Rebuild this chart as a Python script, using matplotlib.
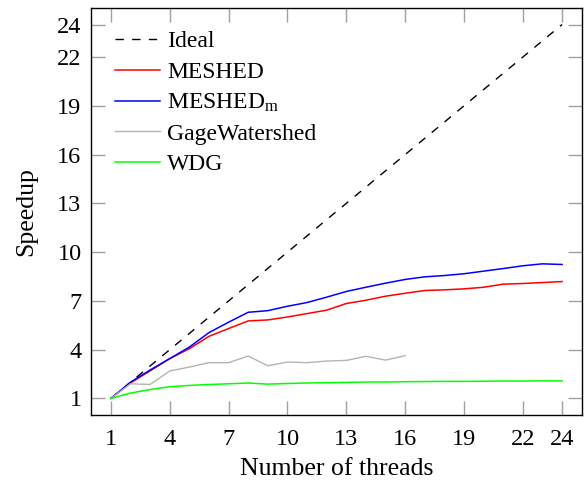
import matplotlib
matplotlib.use("Agg")
import matplotlib.pyplot as plt
import numpy as np

plt.rcParams['font.family'] = ['Liberation Serif', 'DejaVu Serif']
plt.rcParams['mathtext.fontset'] = 'custom'
plt.rcParams['mathtext.rm'] = 'Liberation Serif'
plt.rcParams['mathtext.it'] = 'Liberation Serif:italic'

threads = list(range(1, 25))
ideal = list(range(1, 25))
meshed = [1.0, 1.95, 2.7, 3.45, 4.06, 4.82, 5.30, 5.77, 5.83, 6.01, 6.22, 6.43,
          6.84, 7.04, 7.29, 7.47, 7.64, 7.68, 7.74, 7.84, 8.03, 8.07, 8.13, 8.19]
meshed_m = [1.0, 2.0, 2.75, 3.45, 4.16, 5.05, 5.69, 6.30, 6.40, 6.67, 6.90, 7.23,
            7.58, 7.84, 8.09, 8.32, 8.48, 8.56, 8.67, 8.83, 8.99, 9.16, 9.28, 9.24]
gage_threads = list(range(1, 17))
gage = [1.0, 1.90, 1.86, 2.69, 2.93, 3.20, 3.20, 3.61, 3.01, 3.24, 3.20, 3.30,
        3.34, 3.59, 3.36, 3.63]
wdg = [1.0, 1.33, 1.55, 1.72, 1.80, 1.86, 1.90, 1.95, 1.88, 1.92, 1.95, 1.97,
       1.99, 2.01, 2.01, 2.03, 2.04, 2.05, 2.05, 2.06, 2.07, 2.07, 2.08, 2.08]
ticks = [1, 4, 7, 10, 13, 16, 19, 22, 24]

fig = plt.figure(figsize=(5.87, 4.86), dpi=100)
ax = fig.add_axes([0.1555, 0.1467, 0.991 - 0.1555, 0.983 - 0.1467])

ax.plot(threads, ideal, color='black', lw=1.0, ls=(0, (6, 6)), label='Ideal')
ax.plot(threads, meshed, color='#ff0000', lw=1.1, label='MESHED')
ax.plot(threads, meshed_m, color='#0000ff', lw=1.1, label='MESHED$_\\mathrm{m}$')
ax.plot(gage_threads, gage, color='#b4b4b4', lw=1.0, label='GageWatershed')
ax.plot(threads, wdg, color='#00ff00', lw=1.1, label='WDG')

ax.set_xlim(0, 25)
ax.set_ylim(0, 25)
ax.set_xticks(ticks)
ax.set_yticks(ticks)
ax.tick_params(axis='both', direction='in', length=10, width=1, color='#a0a0a0',
               labelsize=17.5, top=True, right=True, pad=7)
ax.tick_params(axis='x', pad=10)
for s in ax.spines.values():
    s.set_linewidth(1.0)

ax.set_xlabel('Number of threads', fontsize=18.5, labelpad=6)
ax.set_ylabel('Speedup', fontsize=18.5, labelpad=14)

leg = ax.legend(loc='upper left', frameon=False, fontsize=17, handlelength=1.9,
                handletextpad=0.3, labelspacing=0.38, borderaxespad=0.3,
                bbox_to_anchor=(0.015, 0.985))

fig.savefig('out.png', dpi=100)
